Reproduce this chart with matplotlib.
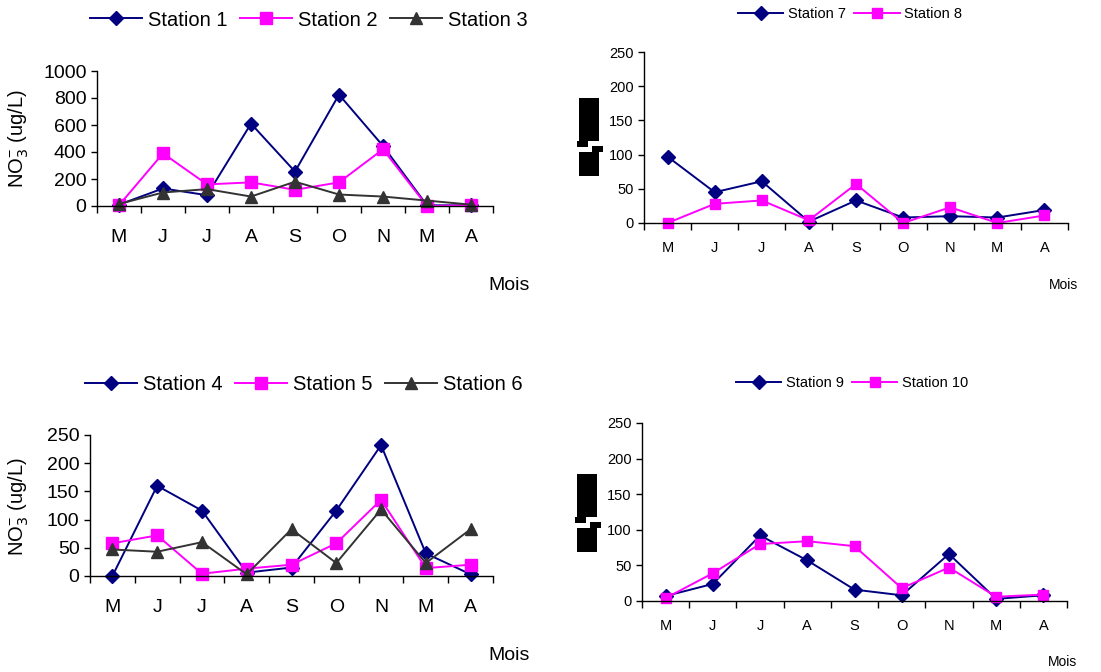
import matplotlib
matplotlib.use("Agg")
import matplotlib.pyplot as plt
from matplotlib.patches import Rectangle

plt.rcParams['font.family'] = ['Liberation Sans', 'DejaVu Sans']

mois = ['M', 'J', 'J', 'A', 'S', 'O', 'N', 'M', 'A']

# panneau 1
st1 = [10, 130, 80, 610, 255, 825, 445, 5, 5]
st2 = [5, 390, 160, 175, 120, 175, 420, 0, 5]
st3 = [15, 100, 125, 70, 180, 85, 70, 40, 10]
# panneau 2
st7 = [97, 45, 61, 2, 33, 8, 10, 8, 19]
st8 = [0, 28, 33, 4, 57, 0, 23, 0, 11]
# panneau 3
st4 = [0, 160, 116, 6, 15, 116, 232, 40, 3]
st5 = [58, 72, 4, 13, 20, 58, 135, 14, 20]
st6 = [47, 43, 60, 3, 83, 23, 118, 23, 83]
# panneau 4
st9 = [7, 24, 92, 57, 16, 8, 66, 3, 8]
st10 = [4, 39, 80, 84, 77, 18, 47, 6, 9]

W, H = 1101, 672
fig = plt.figure(figsize=(W / 100, H / 100), dpi=100)

NAVY = '#000080'
MAG = '#FF00FF'
GRIS = '#333333'
styles = {
    'navy': dict(color=NAVY, marker='D', mfc=NAVY, mec=NAVY),
    'mag': dict(color=MAG, marker='s', mfc=MAG, mec=MAG),
    'gris': dict(color=GRIS, marker='^', mfc=GRIS, mec=GRIS),
}


def px_axes(l, t, r, b):
    return fig.add_axes([l / W, 1 - b / H, (r - l) / W, (b - t) / H])


def habiller(ax, ymax, step, fs):
    x = range(len(mois))
    ax.set_xlim(-0.5, len(mois) - 0.5)
    ax.set_ylim(0, ymax)
    ax.set_yticks(range(0, ymax + 1, step))
    ax.set_xticks(list(x))
    ax.set_xticklabels(mois)
    ax.set_xticks([i - 0.5 for i in range(len(mois) + 1)], minor=True)
    ax.tick_params(axis='x', which='major', length=0, pad=fs * 1.2, labelsize=fs)
    ax.tick_params(axis='x', which='minor', length=5, width=1, direction='out')
    ax.tick_params(axis='y', length=4, width=1, direction='out', labelsize=fs)
    for s in ['top', 'right']:
        ax.spines[s].set_visible(False)
    for s in ['left', 'bottom']:
        ax.spines[s].set_linewidth(1)
    for lab in ax.get_xticklabels() + ax.get_yticklabels():
        lab.set_clip_on(False)


def tracer(ax, series, ms, fs, leg_xy, hl):
    x = range(len(mois))
    handles = []
    for nom, vals, st in series:
        size = ms + 1 if st == 'gris' else ms
        if st == 'navy':
            size = ms - 0.5
        h, = ax.plot(x, vals, lw=1.4, ms=size, label=nom, clip_on=False, **styles[st])
        handles.append(h)
    ax.legend(handles=handles, loc='center', ncol=len(handles), frameon=False,
              fontsize=fs, handlelength=hl, handletextpad=0.3, columnspacing=0.6,
              bbox_to_anchor=(leg_xy[0] / W, 1 - leg_xy[1] / H),
              bbox_transform=fig.transFigure, borderaxespad=0)


ylab = r'NO$_3^{\mathregular{-}}$ (ug/L)'

# panneau 1
ax1 = px_axes(97, 71, 493, 206)
habiller(ax1, 1000, 200, 14)
tracer(ax1, [('Station 1', st1, 'navy'), ('Station 2', st2, 'mag'),
             ('Station 3', st3, 'gris')], 8, 14.5, (309, 20), 2.6)
ax1.set_ylabel(ylab, fontsize=14.5)
ax1.yaxis.set_label_coords((31 - 97) / 396, 0.5)
fig.text(530 / W, 1 - 286 / H, 'Mois', ha='right', va='center', fontsize=14)

# panneau 3
ax3 = px_axes(90, 435, 493, 576)
habiller(ax3, 250, 50, 14)
tracer(ax3, [('Station 4', st4, 'navy'), ('Station 5', st5, 'mag'),
             ('Station 6', st6, 'gris')], 8, 14.5, (304, 385), 2.6)
ax3.set_ylabel(ylab, fontsize=14.5)
ax3.yaxis.set_label_coords((31 - 90) / 403, 0.49)
fig.text(530 / W, 1 - 656 / H, 'Mois', ha='right', va='center', fontsize=14)

# panneau 2
ax2 = px_axes(644, 52, 1068, 223)
habiller(ax2, 250, 50, 10.5)
tracer(ax2, [('Station 7', st7, 'navy'), ('Station 8', st8, 'mag')],
       7.5, 10.5, (850, 14), 3.1)
fig.text(1078 / W, 1 - 285 / H, 'Mois', ha='right', va='center', fontsize=10)

# panneau 4
ax4 = px_axes(642, 423, 1067, 601)
habiller(ax4, 250, 50, 10.5)
tracer(ax4, [('Station 9', st9, 'navy'), ('Station 10', st10, 'mag')],
       7.5, 10.5, (852, 383), 3.1)
fig.text(1077 / W, 1 - 662 / H, 'Mois', ha='right', va='center', fontsize=10)


# étiquettes y illisibles (blocs noirs) des panneaux de droite
def bloc(x0, y0):
    rects = [(x0, y0, 20, 43), (x0 - 2, y0 + 43, 11, 6), (x0 + 13, y0 + 48, 11, 6),
             (x0, y0 + 54, 20, 24)]
    for (rx, ry, rw, rh) in rects:
        fig.patches.append(Rectangle((rx / W, 1 - (ry + rh) / H), rw / W, rh / H,
                                     transform=fig.transFigure, color='black', lw=0))


bloc(579, 98)
bloc(577, 474)

fig.savefig('out.png', dpi=100)
